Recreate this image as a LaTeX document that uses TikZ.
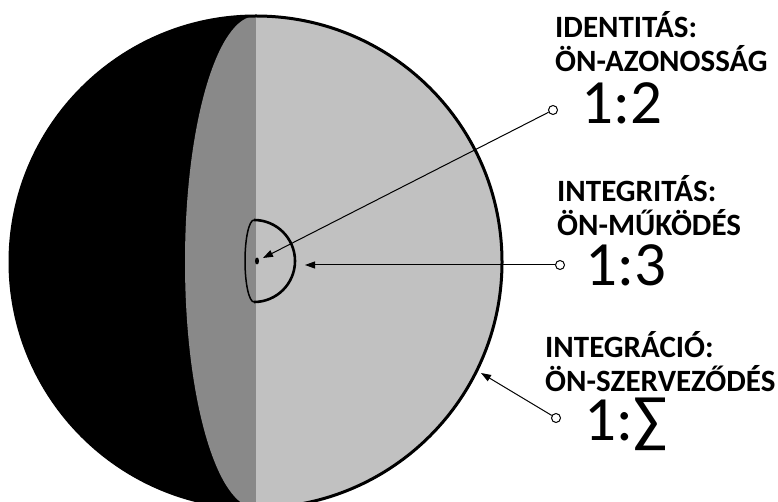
\documentclass[tikz,border=0pt]{standalone}
\usepackage{fontspec}
\setmainfont{Carlito}
\usepackage{xcolor}
\usetikzlibrary{arrows.meta, positioning}

\definecolor{midgray}{HTML}{898989}
\definecolor{litgray}{HTML}{C1C1C1}

\begin{document}
\begin{tikzpicture}[
    x=1pt, y=-1pt,
    lbl/.style={font=\fontsize{31}{34}\selectfont\bfseries, align=left, anchor=base west, inner sep=0pt},
    ratio/.style={font=\fontsize{63}{63}\selectfont, anchor=base west, inner sep=0pt},
    pin/.style={circle, draw, fill=white, line width=1pt, minimum size=9pt, inner sep=0pt},
    arrow/.style={-{Triangle[length=10pt, width=7pt]}, line width=1pt},
]
\useasboundingbox (0,0) rectangle (778,502);

% sphere
\fill[black] (256,262) circle (246);
\fill[midgray] (256,16) arc[start angle=-90, end angle=-270, x radius=71, y radius=246] -- cycle;
\fill[litgray] (256,16) arc[start angle=-90, end angle=90, radius=246] -- cycle;
\draw[line width=3pt] (256,262) circle (246);

% inner core
\draw[line width=2.6pt, line join=round] (254,220) arc[start angle=-90, end angle=90, radius=41];
\draw[line width=1.5pt] (254,220) arc[start angle=-90, end angle=-270, x radius=9, y radius=41];
\fill[black] (257,261) ellipse[x radius=2, y radius=3.5];

% labels (base = last line)
\node[lbl] (ident) at (555,72) {IDENTITÁS:\\ÖN-AZONOSSÁG};
\node[ratio] (r1) at (581,124) {1:2};
\node[lbl] (integ) at (557,236) {INTEGRITÁS:\\ÖN-MŰKÖDÉS};
\node[ratio] (r2) at (585,285) {1:3};
\node[lbl] (integr) at (545,391) {INTEGRÁCIÓ:\\ÖN-SZERVEZŐDÉS};
\node[ratio] (r3) at (584,440) {1:∑};

% pointers
\node[pin] (p1) at (553,110) {};
\node[pin] (p2) at (560,265) {};
\node[pin] (p3) at (556,418) {};
\coordinate (t1) at (263,258);
\coordinate (t2) at (305,265);
\coordinate (t3) at (481,373);

\draw[arrow] (p1) -- (t1);
\draw[arrow] (p2) -- (t2);
\draw[arrow] (p3) -- (t3);
\end{tikzpicture}
\end{document}
